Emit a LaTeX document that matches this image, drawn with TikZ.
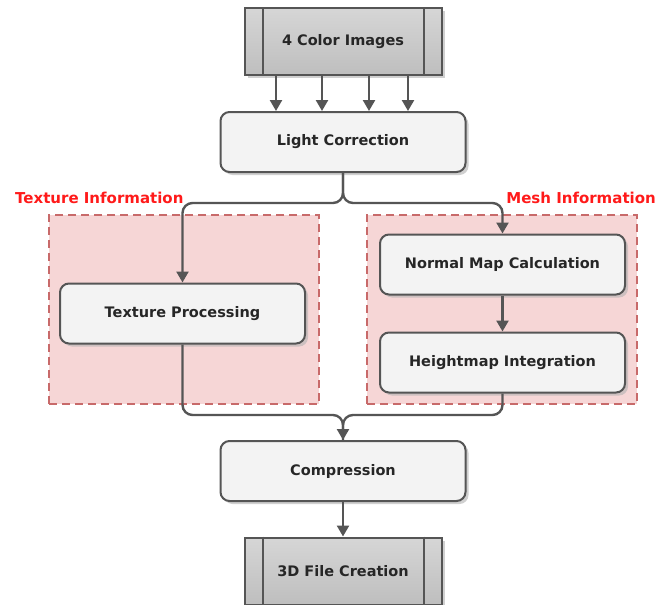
\documentclass[tikz,border=0pt]{standalone}
\usepackage{fontspec}
\setmainfont{DejaVu Sans}
\usetikzlibrary{arrows.meta,shadows,calc}
\definecolor{boxfill}{HTML}{F3F3F3}
\definecolor{boxline}{HTML}{555555}
\definecolor{grpfill}{HTML}{F6D6D6}
\definecolor{grpline}{HTML}{C86A6A}
\definecolor{ioTop}{HTML}{D6D6D6}
\definecolor{ioBot}{HTML}{BEBEBE}
\definecolor{lbl}{HTML}{FF1A1A}
\tikzset{
  procbox/.style={draw=boxline, line width=2pt, fill=boxfill, rounded corners=9pt,
    minimum width=245pt, minimum height=60pt, inner sep=0pt,
    font=\bfseries\fontsize{14.5}{16}\selectfont, text=black!85,
    drop shadow={shadow xshift=3pt, shadow yshift=-3pt, fill=black!30, opacity=0.6}},
  iobox/.style={draw=boxline, line width=2pt, top color=ioTop, bottom color=ioBot,
    minimum width=197pt, minimum height=67pt, inner sep=0pt,
    font=\bfseries\fontsize{14.5}{16}\selectfont, text=black!85,
    drop shadow={shadow xshift=3pt, shadow yshift=-3pt, fill=black!30, opacity=0.6}},
  grpbox/.style={draw=grpline, fill=grpfill, dash pattern=on 8pt off 5pt,
    line width=2.2pt, minimum width=270pt, minimum height=189pt, inner sep=0pt},
  grplabel/.style={text=lbl, font=\bfseries\fontsize{15}{17}\selectfont, inner sep=0pt},
  conn/.style={draw=boxline, line width=2.4pt, rounded corners=10pt,
    -{Triangle[width=12pt,length=11pt]}},
  plainconn/.style={draw=boxline, line width=2.4pt, rounded corners=10pt}
}
\begin{document}
\begin{tikzpicture}[x=1pt,y=-1pt]
\useasboundingbox[fill=white] (0,0) rectangle (667,605);

% groups
\node[grpbox] (grpL) at (184,309.5) {};
\node[grpbox] (grpR) at (502,309.5) {};
\node[grplabel, anchor=base west] (lblL) at (15,203) {Texture Information};
\node[grplabel, anchor=base east] (lblR) at (656,203) {Mesh Information};

% input / output blocks
\node[iobox] (src) at (343,41.5) {4 Color Images};
\draw[boxline, line width=2pt] ($(src.north west)+(19,0)$) -- ($(src.south west)+(19,0)$);
\draw[boxline, line width=2pt] ($(src.north east)+(-19,0)$) -- ($(src.south east)+(-19,0)$);

% process steps
\node[procbox] (lc) at (343,142) {Light Correction};
\node[procbox] (tp) at (182.5,313.5) {Texture Processing};
\node[procbox] (nm) at (502.5,264.5) {Normal Map Calculation};
\node[procbox] (hi) at (502.5,362.5) {Heightmap Integration};
\node[procbox] (cp) at (343,471) {Compression};

\node[iobox] (out) at (343,571) {3D File Creation};
\draw[boxline, line width=2pt] ($(out.north west)+(19,0)$) -- ($(out.south west)+(19,0)$);
\draw[boxline, line width=2pt] ($(out.north east)+(-19,0)$) -- ($(out.south east)+(-19,0)$);

% four image channels into light correction
\foreach \dx/\n in {-67/a,-21/b,26/c,65/d}{
  \coordinate (s\n) at ($(src.south)+(\dx,0)$);
  \draw[conn] (s\n) -- (s\n |- lc.north);
}

% split
\coordinate (split) at (343,203);
\draw[conn] (lc.south) -- (split) -| (tp.north);
\draw[conn] (lc.south) -- (split) -| (nm.north);
\draw[conn] (nm.south) -- (hi.north);

% merge
\coordinate (merge) at (343,415);
\draw[plainconn] (tp.south) |- (merge) -- (cp.north);
\draw[conn] (hi.south) |- (merge) -- (cp.north);
\draw[conn] (cp.south) -- (out.north);
\end{tikzpicture}
\end{document}
